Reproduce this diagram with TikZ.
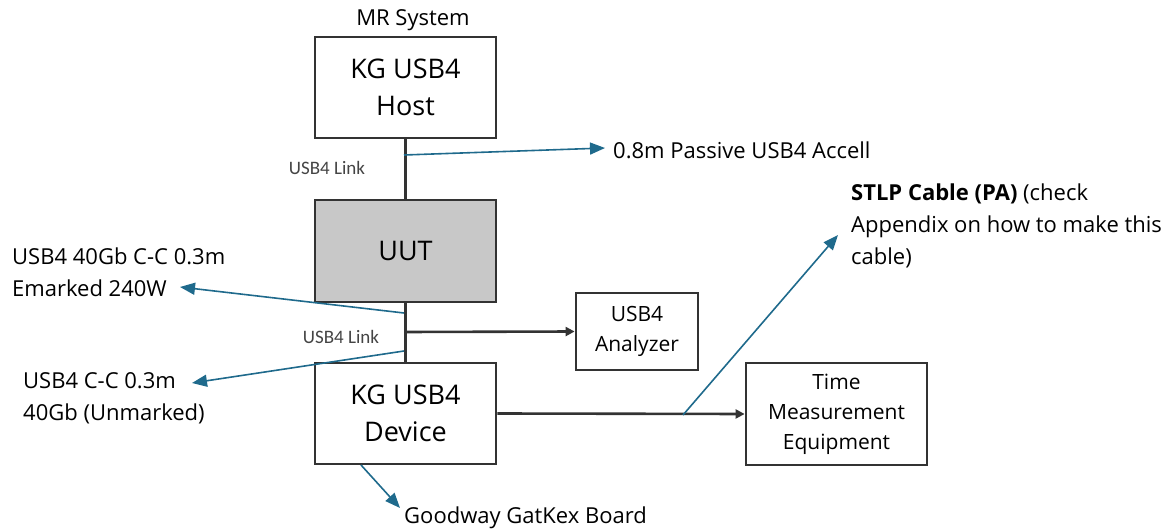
\documentclass[tikz,border=0pt]{standalone}
\usepackage{fontspec}
\setmainfont{Open Sans}
\newfontfamily\boxfont{Carlito}
\usetikzlibrary{arrows.meta}
\definecolor{cblue}{HTML}{1F6A8C}
\definecolor{uutgray}{HTML}{C8C8C8}
\definecolor{edgec}{HTML}{333333}
\definecolor{linkc}{HTML}{444444}
\begin{document}
\begin{tikzpicture}[x=1pt,y=-1pt,
  box/.style={draw=edgec, line width=2.8pt, inner sep=0pt, text=black, font=\fontsize{27}{37}\selectfont, align=center},
  smallbox/.style={box, font=\fontsize{21}{30}\selectfont},
  wire/.style={draw=edgec, line width=2.6pt},
  warrow/.style={wire, -{Triangle[length=9pt,width=9pt]}},
  callout/.style={draw=cblue, line width=1.6pt, -{Triangle[length=15pt,width=12pt]}},
  lbl/.style={inner sep=0pt, anchor=west, align=left, font=\fontsize{22}{32}\selectfont},
  linklbl/.style={inner sep=0pt, text=linkc, font=\boxfont\fontsize{19}{21}\selectfont}]
\useasboundingbox (0,0) rectangle (1165,529);
% boxes
\node[box, minimum width=181pt, minimum height=101pt] (host) at (405.5,87.5) {KG USB4\\Host};
\node[box, fill=uutgray, minimum width=181pt, minimum height=102pt] (uut) at (405.5,251) {UUT};
\node[box, minimum width=181pt, minimum height=101pt] (dev) at (405.5,413.5) {KG USB4\\Device};
\node[smallbox, minimum width=122pt, minimum height=77pt] (ana) at (637,331.5) {USB4\\Analyzer};
\node[smallbox, minimum width=181pt, minimum height=102pt] (tme) at (836.5,414) {Time\\Measurement\\Equipment};
% texts
\node[inner sep=0pt, font=\fontsize{22}{26}\selectfont] (mr) at (413,20) {MR System};
\node[linklbl] (link1) at (327,168) {USB4 Link};
\node[linklbl] (link2) at (341,337) {USB4 Link};
\node[lbl] (pass) at (613,150) {0.8m Passive USB4 Accell};
\node[lbl] (emk) at (12,272) {USB4 40Gb C-C 0.3m\\Emarked 240W};
\node[lbl] (unm) at (23,398) {USB4 C-C 0.3m\\40Gb (Unmarked)};
\node[lbl] (stlp) at (851,226) {\textbf{STLP Cable (PA)} (check\\Appendix on how to make this\\cable)};
\node[lbl] (gw) at (404,518) {Goodway GatKex Board};
% wires
\draw[wire] (host) -- (uut);
\draw[wire] (uut) -- (dev);
\coordinate (j) at (405,332);
\draw[warrow] (j) -- (ana.west);
\draw[warrow] (dev.east) -- (tme.west);
% callouts
\coordinate (c1) at (404,155);
\coordinate (t1) at (605,148);
\coordinate (c2) at (404,313);
\coordinate (t2) at (180,287);
\coordinate (c3) at (404,351);
\coordinate (t3) at (192,383);
\coordinate (c4) at (683,415);
\coordinate (t4) at (838,235);
\coordinate (c5) at (361,465);
\coordinate (t5) at (400,508);
\draw[callout] (c1) -- (t1);
\draw[callout] (c2) -- (t2);
\draw[callout] (c3) -- (t3);
\draw[callout] (c4) -- (t4);
\draw[callout] (c5) -- (t5);
\end{tikzpicture}
\end{document}
